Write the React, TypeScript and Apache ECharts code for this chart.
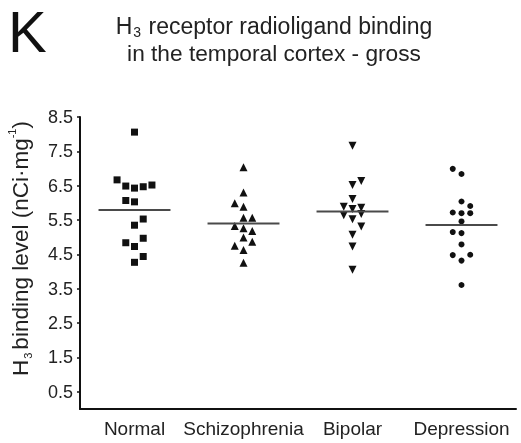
import React, { useEffect, useRef } from "react";
import * as echarts from "echarts";

const categories = ["Normal", "Schizophrenia", "Bipolar", "Depression"];

const normalValues = [8.06, 6.67, 6.49, 6.43, 6.47, 6.52, 6.07, 6.03, 5.53, 5.35, 4.97, 4.84, 4.73, 4.44, 4.27];
const normalSlots = [0, -2, -1, 0, 1, 2, -1, 0, 1, 0, 1, -1, 0, 1, 0];

const schizophreniaValues = [7.04, 6.3, 5.99, 5.89, 5.57, 5.57, 5.33, 5.26, 5.18, 4.99, 4.87, 4.75, 4.63, 4.26];
const schizophreniaSlots = [0, 0, -1, 0, 0, 1, -1, 0, 1, 0, 1, -1, 0, 0];

const bipolarValues = [7.66, 6.52, 6.64, 6.11, 5.89, 5.82, 5.86, 5.64, 5.68, 5.52, 5.31, 5.07, 4.73, 4.05];
const bipolarSlots = [0, 0, 1, 0, -1, 0, 1, -1, 1, 0, 1, 0, 0, 0];

const depressionValues = [6.99, 6.84, 6.04, 5.91, 5.72, 5.7, 5.7, 5.46, 5.15, 5.12, 4.79, 4.48, 4.49, 4.32, 3.61];
const depressionSlots = [-1, 0, 0, 1, -1, 0, 1, 0, -1, 0, 0, -1, 1, 0, 0];

const yTickValues = [0.5, 1.5, 2.5, 3.5, 4.5, 5.5, 6.5, 7.5, 8.5];

const FONT = "'Liberation Sans', Arial, Helvetica, sans-serif";
const SLOT = 0.08;
const HALF = 0.33;

export default function App() {
  const ref = useRef<HTMLDivElement>(null);
  useEffect(() => {
    if (!ref.current) return;
    const chart = echarts.init(ref.current, undefined, { renderer: "svg" });
    const groups = [
      { values: normalValues, slots: normalSlots, symbol: "rect", size: 7, rotate: 0 },
      { values: schizophreniaValues, slots: schizophreniaSlots, symbol: "triangle", size: 8, rotate: 0 },
      { values: bipolarValues, slots: bipolarSlots, symbol: "triangle", size: 8, rotate: 180 },
      { values: depressionValues, slots: depressionSlots, symbol: "circle", size: 6, rotate: 0 },
    ];
    const series: any[] = [];
    groups.forEach((g, i) => {
      series.push({
        type: "scatter",
        xAxisIndex: 1,
        symbol: g.symbol,
        symbolSize: g.size,
        symbolRotate: g.rotate,
        itemStyle: { color: "#111", opacity: 1 },
        data: g.values.map((v, k) => [i + g.slots[k] * SLOT, v]),
        z: 3,
      });
      const mean = g.values.reduce((a, b) => a + b, 0) / g.values.length;
      series.push({
        type: "line",
        xAxisIndex: 1,
        symbol: "none",
        lineStyle: { color: "#4a4a4a", width: 2 },
        data: [
          [i - HALF, mean],
          [i + HALF, mean],
        ],
        z: 4,
      });
    });
    const option: any = {
      animation: false,
      textStyle: { fontFamily: FONT },
      grid: { left: 80, top: 117, width: 436, height: 292, outerBoundsMode: "none", containLabel: false },
      xAxis: [
        {
          type: "category",
          data: categories,
          axisLine: { lineStyle: { color: "#111", width: 2 } },
          axisTick: { alignWithLabel: true, length: 4, lineStyle: { color: "#111", width: 1.5 } },
          axisLabel: { interval: 0, fontSize: 19, color: "#222", margin: 10, fontFamily: FONT, hideOverlap: false },
          splitLine: { show: false },
        },
        { type: "value", min: -0.5, max: 3.5, show: false },
      ],
      yAxis: {
        type: "value",
        min: 0,
        max: 8.5,
        axisLine: { show: true, onZero: false, lineStyle: { color: "#111", width: 2 } },
        axisTick: { show: true, customValues: yTickValues, length: 3, lineStyle: { color: "#111", width: 1.5 } },
        axisLabel: {
          customValues: yTickValues,
          formatter: (v: number) => v.toFixed(1),
          fontSize: 18,
          color: "#222",
          margin: 7,
          fontFamily: FONT,
        },
        splitLine: { show: false },
      },
      graphic: [
        {
          type: "text",
          x: 8,
          y: 2,
          style: { text: "K", fontSize: 58, lineHeight: 58, fontFamily: FONT, fill: "#111", textVerticalAlign: "top" },
        },
        {
          type: "text",
          x: 274,
          y: 26,
          style: {
            text: "{a|H}{s|3}{a| receptor radioligand binding}",
            textAlign: "center",
            textVerticalAlign: "middle",
            fill: "#222",
            rich: {
              a: { fontSize: 23, fontFamily: FONT, fill: "#222", lineHeight: 26 },
              s: { fontSize: 14, fontFamily: FONT, fill: "#222", verticalAlign: "bottom", lineHeight: 16, padding: [0, 1, 0, 1] },
            },
          },
        },
        {
          type: "text",
          x: 274,
          y: 52.5,
          style: {
            text: "in the temporal cortex - gross",
            textAlign: "center",
            textVerticalAlign: "middle",
            fontSize: 22.7,
            fontFamily: FONT,
            fill: "#222",
          },
        },
        {
          type: "text",
          x: 20,
          y: 248.5,
          rotation: Math.PI / 2,
          style: {
            text: "{a|H}{s|3}{a|binding level (nCi·mg}{p|-1}{a|)}",
            textAlign: "center",
            textVerticalAlign: "middle",
            fill: "#222",
            rich: {
              a: { fontSize: 22.5, fontFamily: FONT, fill: "#222", lineHeight: 27 },
              s: { fontSize: 11, fontFamily: FONT, fill: "#222", verticalAlign: "bottom", lineHeight: 14, padding: [0, 3, 0, 1] },
              p: { fontSize: 11, fontFamily: FONT, fill: "#222", verticalAlign: "top", lineHeight: 14 },
            },
          },
        },
      ],
      series,
    };
    chart.setOption(option);
    return () => chart.dispose();
  }, []);
  return <div ref={ref} style={{ position: "fixed", left: 0, top: 0, width: 521, height: 443 }} />;
}
